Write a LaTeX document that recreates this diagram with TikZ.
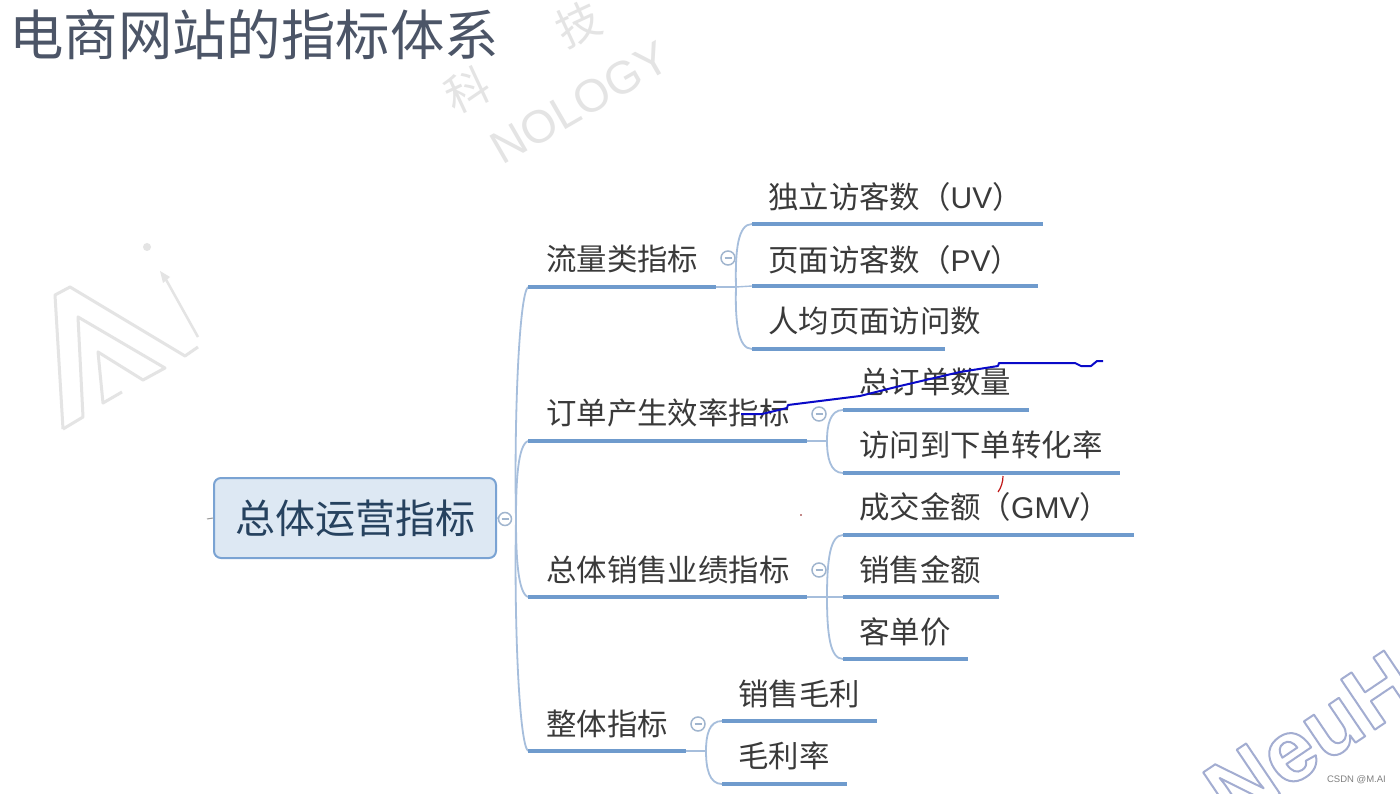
\documentclass[tikz,border=0pt]{standalone}
\usepackage{fontspec}
\setmainfont{Noto Sans CJK SC}
\newfontfamily\wmfont{Liberation Sans}
\newfontfamily\outfont{Liberation Sans Bold}
\newcommand{\latinpart}[1]{{\wmfont\fontsize{30}{36}\selectfont #1}}
\definecolor{rulec}{HTML}{6F9BCD}
\definecolor{curvec}{HTML}{A6BEDC}
\definecolor{inkc}{HTML}{3A3A3A}
\definecolor{titlec}{HTML}{4C5567}
\definecolor{rootc}{HTML}{26425F}
\definecolor{rootfill}{HTML}{DDE8F3}
\definecolor{rootline}{HTML}{7AA3D3}
\definecolor{wmc}{HTML}{E4E4E4}
\definecolor{tickc}{HTML}{9A9A9A}
\definecolor{penblue}{HTML}{0A0AC8}
\definecolor{penred}{HTML}{C01818}
\tikzset{
  topic/.style={anchor=west,inner sep=0pt,text=inkc,font=\fontsize{30.4}{36}\selectfont},
  rootbox/.style={draw=rootline,line width=2pt,fill=rootfill,rounded corners=7pt,minimum width=282pt,minimum height=80pt,inner sep=0pt,text=rootc,font=\fontsize{40}{46}\selectfont},
  titletext/.style={anchor=west,inner sep=0pt,text=titlec,font=\fontsize{54.4}{60}\selectfont},
  rulel/.style={draw=rulec,line width=3.3pt},
  thinl/.style={draw=curvec,line width=1.4pt},
  curvel/.style={draw=curvec,line width=1.8pt},
  fold/.style={circle,draw=curvec!85!gray,line width=1.5pt,fill=white,minimum size=14pt,inner sep=0pt,path picture={\draw[curvec!85!gray,line width=1.3pt] (path picture bounding box.center)+(-3.5pt,0pt) -- +(3.5pt,0pt);}},
  wmtext/.style={inner sep=0pt,text=wmc},
  wmline/.style={draw=wmc,line width=3pt,line join=round},
}
\begin{document}
\begin{tikzpicture}[x=1pt,y=-1pt]
\useasboundingbox (0,0) rectangle (1400,794);
\clip (0,0) rectangle (1400,794);
\fill[white] (0,0) rectangle (1400,794);
% watermarks
\node[wmtext,font=\fontsize{44}{50}\selectfont,rotate=25] (wm1) at (467,90) {科};
\node[wmtext,font=\fontsize{44}{50}\selectfont,rotate=25] (wm2) at (578,24) {技};
\node[wmtext,font=\wmfont\fontsize{46}{50}\selectfont,rotate=30] (wm3) at (580,103) {NOLOGY};
\draw[wmline] (63,429) -- (55,295) -- (70,287) -- (185,356) -- (198,347);
\draw[wmline] (63,429) -- (83,417) -- (78,317) -- (165,368) -- (143,380) -- (98,352) -- (103,403) -- (122,392);
\draw[wmline,line width=2.5pt] (198,337) -- (164,276);
\fill[wmc] (160,271) -- (170,277) -- (163,283) -- cycle;
\fill[wmc] (147,247) circle (4);
\node[inner sep=0pt,text=white,font=\outfont\fontsize{88}{90}\selectfont,rotate=34,anchor=base west] (wm4) at (1232,826) {\special{pdf:code 2 Tr 2 w 1 J 1 j 0.64 0.68 0.82 RG}NeuH\special{pdf:code 0 Tr 0 0 0 RG 1 w 0 J 0 j}};
% title
\node[titletext] (title) at (9,35) {电商网站的指标体系};
% root
\node[rootbox] (root) at (355,518) {总体运营指标};
\coordinate (tick) at (207,519);
\draw[draw=tickc,line width=1pt] (tick) -- (root.west);
\coordinate (rj) at (516,519);
\node[fold,minimum size=13pt] (rf) at (505,519) {};
\draw[thinl] (root.east) -- (rf);
% branch ends
\coordinate (b1a) at (528,287); \coordinate (b1b) at (716,287); \coordinate (b1j) at (736,287);
\coordinate (b2a) at (528,441); \coordinate (b2b) at (807,441); \coordinate (b2j) at (827,441);
\coordinate (b3a) at (528,597); \coordinate (b3b) at (807,597); \coordinate (b3j) at (827,597);
\coordinate (b4a) at (528,751); \coordinate (b4b) at (686,751); \coordinate (b4j) at (706,751);
\draw[curvel] (rj) .. controls (514,420) and (519,295) .. (b1a);
\draw[curvel] (rj) .. controls (516,480) and (518,445) .. (b2a);
\draw[curvel] (rj) .. controls (516,558) and (518,593) .. (b3a);
\draw[curvel] (rj) .. controls (514,620) and (519,743) .. (b4a);
\foreach \n in {1,2,3,4}{
  \draw[rulel] (b\n a) -- (b\n b);
  \draw[thinl] (b\n b) -- (b\n j);
}
\node[topic] (b1) at (546,259) {流量类指标};
\node[topic] (b2) at (546,413) {订单产生效率指标};
\node[topic] (b3) at (546,570) {总体销售业绩指标};
\node[topic] (b4) at (546,724) {整体指标};
\node[fold] (f1) at (728,258) {};
\node[fold] (f2) at (819,414) {};
\node[fold] (f3) at (819,570) {};
\node[fold] (f4) at (698,724) {};
% branch 1 leaves
\coordinate (l1a) at (752,224); \coordinate (l1b) at (1043,224);
\coordinate (l2a) at (752,286); \coordinate (l2b) at (1038,286);
\coordinate (l3a) at (752,349); \coordinate (l3b) at (945,349);
\draw[curvel] (b1j) .. controls (735,250) and (738,224) .. (l1a);
\draw[thinl] (b1j) -- (l2a);
\draw[curvel] (b1j) .. controls (735,322) and (738,349) .. (l3a);
\draw[rulel] (l1a) -- (l1b); \draw[rulel] (l2a) -- (l2b); \draw[rulel] (l3a) -- (l3b);
\node[topic] (t1) at (768,197) {独立访客数（\latinpart{UV}）};
\node[topic] (t2) at (768,260) {页面访客数（\latinpart{PV}）};
\node[topic] (t3) at (768,321) {人均页面访问数};
% branch 2 leaves
\coordinate (l4a) at (843,410); \coordinate (l4b) at (1029,410);
\coordinate (l5a) at (843,473); \coordinate (l5b) at (1120,473);
\draw[curvel] (b2j) .. controls (827,425) and (830,410) .. (l4a);
\draw[curvel] (b2j) .. controls (827,457) and (830,473) .. (l5a);
\draw[rulel] (l4a) -- (l4b); \draw[rulel] (l5a) -- (l5b);
\node[topic] (t4) at (859,382) {总订单数量};
\node[topic] (t5) at (859,445) {访问到下单转化率};
% branch 3 leaves
\coordinate (l6a) at (843,535); \coordinate (l6b) at (1134,535);
\coordinate (l7a) at (843,597); \coordinate (l7b) at (999,597);
\coordinate (l8a) at (843,659); \coordinate (l8b) at (968,659);
\draw[curvel] (b3j) .. controls (827,560) and (830,535) .. (l6a);
\draw[thinl] (b3j) -- (l7a);
\draw[curvel] (b3j) .. controls (827,634) and (830,659) .. (l8a);
\draw[rulel] (l6a) -- (l6b); \draw[rulel] (l7a) -- (l7b); \draw[rulel] (l8a) -- (l8b);
\node[topic] (t6) at (859,507) {成交金额（\latinpart{GMV}）};
\node[topic] (t7) at (859,570) {销售金额};
\node[topic] (t8) at (859,632) {客单价};
% branch 4 leaves
\coordinate (l9a) at (722,721); \coordinate (l9b) at (877,721);
\coordinate (l10a) at (722,784); \coordinate (l10b) at (847,784);
\draw[curvel] (b4j) .. controls (706,735) and (709,721) .. (l9a);
\draw[curvel] (b4j) .. controls (706,768) and (709,784) .. (l10a);
\draw[rulel] (l9a) -- (l9b); \draw[rulel] (l10a) -- (l10b);
\node[topic] (t9) at (738,694) {销售毛利};
\node[topic] (t10) at (738,756) {毛利率};
% pen marks
\draw[penblue,line width=2pt,line join=round] (741,414) -- (762,414) -- (787,408) -- (788,405) -- (860,396) -- (900,386) -- (960,372) -- (998,366) -- (999,363) -- (1075,363) -- (1081,366) -- (1091,366) -- (1097,361) -- (1103,361);
\draw[penred,line width=1.2pt] (1003,476) .. controls (1003,482) and (1001,488) .. (998,492);
\fill[penred!70!black] (801,515) circle (0.9);
% credit
\node[inner sep=0pt,anchor=east,text=gray,font=\wmfont\fontsize{9.5}{11}\selectfont] (credit) at (1386,780) {CSDN @M.AI};
\end{tikzpicture}
\end{document}
